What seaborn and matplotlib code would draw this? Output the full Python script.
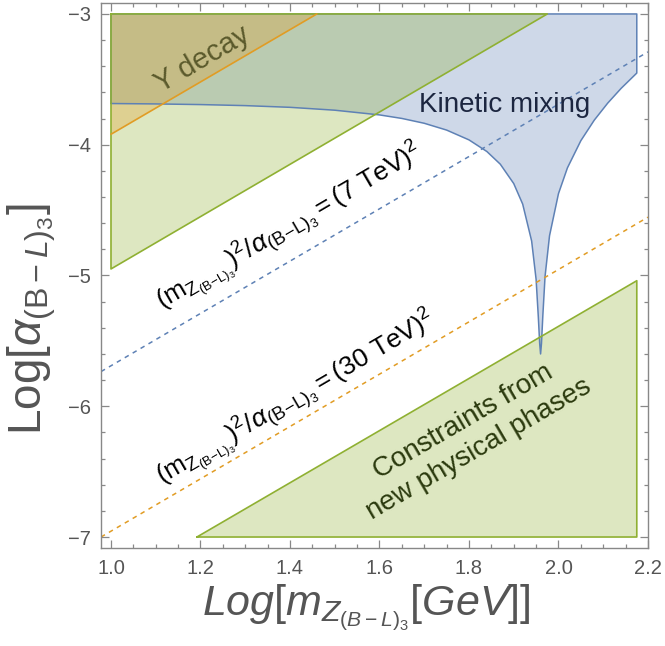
import numpy as np
import pandas as pd
import matplotlib
matplotlib.use("Agg")
import matplotlib.pyplot as plt
import seaborn as sns
from matplotlib.ticker import MultipleLocator

# ---------------- data ----------------
# Kinetic mixing lower boundary
km_x = [1.00, 1.10, 1.20, 1.30, 1.40, 1.50, 1.60, 1.65, 1.70, 1.75, 1.80, 1.84,
        1.87, 1.90, 1.92, 1.94, 1.95, 1.955, 1.958, 1.96, 1.962, 1.965, 1.97,
        1.98, 2.00, 2.02, 2.05, 2.08, 2.11, 2.14, 2.175]
km_y = [-3.685, -3.688, -3.693, -3.701, -3.714, -3.736, -3.772, -3.799, -3.836,
        -3.888, -3.963, -4.052, -4.149, -4.297, -4.454, -4.736, -5.03, -5.32,
        -5.52, -5.60, -5.52, -5.31, -5.007, -4.696, -4.374, -4.177, -3.969,
        -3.812, -3.682, -3.569, -3.452]
km_top = -3.0
km_right = 2.175

# Upper green region (triangle)
gu_x = [1.0, 1.0, 1.975]
gu_y = [-3.0, -4.95, -3.0]
# Lower green region (triangle)
gl_x = [1.192, 2.175, 2.175]
gl_y = [-7.0, -7.0, -5.04]
# Upsilon decay region (triangle)
ups_x = [1.0, 1.0, 1.46]
ups_y = [-3.0, -3.92, -3.0]

# Dashed reference lines
ref_x = [0.9777, 2.2]
ref7_y = [-5.735, -3.29]
ref30_y = [-7.0, -4.554]

xticks = [1.0, 1.2, 1.4, 1.6, 1.8, 2.0, 2.2]
yticks = [-7, -6, -5, -4, -3]

# ---------------- style ----------------
sns.set_theme(style="white")
plt.rcParams['font.family'] = ['Liberation Sans', 'DejaVu Sans']
plt.rcParams['mathtext.fontset'] = 'custom'
plt.rcParams['mathtext.rm'] = 'Liberation Sans'
plt.rcParams['mathtext.it'] = 'Liberation Sans:italic'
plt.rcParams['mathtext.bf'] = 'Liberation Sans:bold'
plt.rcParams['mathtext.sf'] = 'Liberation Sans'

BLUE = '#5E81B5'
ORANGE = '#E19C24'
GREEN = '#8FB032'
GRAY = '#555555'
FA = 0.3

fig = plt.figure(figsize=(6.65, 6.46), dpi=100)
ax = fig.add_axes([0.1519, 0.1517, 0.8225, 0.8437])

# fills
kx = km_x + [km_right, km_x[0]]
ky = km_y + [km_top, km_top]
ax.fill(kx, ky, color=BLUE, alpha=FA, lw=0)
ax.fill(gu_x, gu_y, color=GREEN, alpha=FA, lw=0)
ax.fill(gl_x, gl_y, color=GREEN, alpha=FA, lw=0)
ax.fill(ups_x, ups_y, color=ORANGE, alpha=FA, lw=0)

# outlines
kdf = pd.DataFrame({'x': kx + [kx[0]], 'y': ky + [ky[0]]})
sns.lineplot(data=kdf, x='x', y='y', sort=False, estimator=None, ax=ax,
             color=BLUE, lw=1.1)
gdf = pd.DataFrame({'x': gu_x + [gu_x[0]], 'y': gu_y + [gu_y[0]]})
sns.lineplot(data=gdf, x='x', y='y', sort=False, estimator=None, ax=ax,
             color=GREEN, lw=1.2)
gldf = pd.DataFrame({'x': gl_x + [gl_x[0]], 'y': gl_y + [gl_y[0]]})
sns.lineplot(data=gldf, x='x', y='y', sort=False, estimator=None, ax=ax,
             color=GREEN, lw=1.2)
sns.lineplot(x=ups_x[1:], y=ups_y[1:], sort=False, estimator=None, ax=ax,
             color=ORANGE, lw=1.2)

# dashed lines
sns.lineplot(x=ref_x, y=ref7_y, ax=ax, color=BLUE, lw=1.1,
             linestyle=(0, (3, 3)))
sns.lineplot(x=ref_x, y=ref30_y, ax=ax, color=ORANGE, lw=1.1,
             linestyle=(0, (3, 3)))

# texts
rot = 30.3
ax.text(1.205, -3.35, 'Υ decay', rotation=rot, rotation_mode='anchor',
        ha='center', va='center', fontsize=21, color='#5b5a2c')
ax.text(1.879, -3.70, 'Kinetic mixing', ha='center', va='center',
        fontsize=20, color='#1c2640')
ax.text(1.40, -4.64,
        r'$(\mathrm{m}_{\mathrm{Z}_{(\mathrm{B\!-\!L})_3}})^2/\alpha_{(\mathrm{B\!-\!L})_3} = (7\ \mathrm{TeV})^2$',
        rotation=rot, rotation_mode='anchor', ha='center', va='center',
        fontsize=19, color='black')
ax.text(1.415, -5.95,
        r'$(\mathrm{m}_{\mathrm{Z}_{(\mathrm{B\!-\!L})_3}})^2/\alpha_{(\mathrm{B\!-\!L})_3} = (30\ \mathrm{TeV})^2$',
        rotation=rot, rotation_mode='anchor', ha='center', va='center',
        fontsize=19, color='black')
ax.text(1.805, -6.22, 'Constraints from\nnew physical phases', rotation=rot,
        rotation_mode='anchor', ha='center', va='center', fontsize=20,
        color='#2b3a0e', linespacing=1.3)

# axes
ax.set_xlim(0.9777, 2.2)
ax.set_ylim(-7.084, -2.916)
ax.set_xticks(xticks)
ax.set_xticklabels([f'{v:.1f}' for v in xticks])
ax.set_yticks(yticks)
ax.set_yticklabels([f'\u2212{abs(v)}' for v in yticks])
ax.xaxis.set_minor_locator(MultipleLocator(0.05))
ax.yaxis.set_minor_locator(MultipleLocator(0.2))
ax.tick_params(which='both', direction='in', top=True, right=True,
               bottom=True, left=True, color='#888888', width=0.9,
               labelcolor=GRAY, labelsize=14.5)
ax.tick_params(axis='x', which='major', pad=8)
ax.tick_params(axis='y', which='major', pad=7)
ax.tick_params(which='major', length=5.5)
ax.tick_params(which='minor', length=3)
ax.tick_params(axis='both', which='both', labeltop=False, labelright=False)
for s in ax.spines.values():
    s.set_color('#888888')
    s.set_linewidth(1.0)

ax.set_xlabel(r'$Log[m_{Z_{(B-L)_3}}[GeV]]$', fontsize=31, color=GRAY)
ax.set_ylabel(r'$\mathrm{Log}[\alpha_{(\mathrm{B}-L)_3}]$', fontsize=33,
              color=GRAY)
ax.xaxis.set_label_coords(0.4845, -0.064)
ax.yaxis.set_label_coords(-0.078, 0.42)

fig.savefig('out.png', dpi=100)
